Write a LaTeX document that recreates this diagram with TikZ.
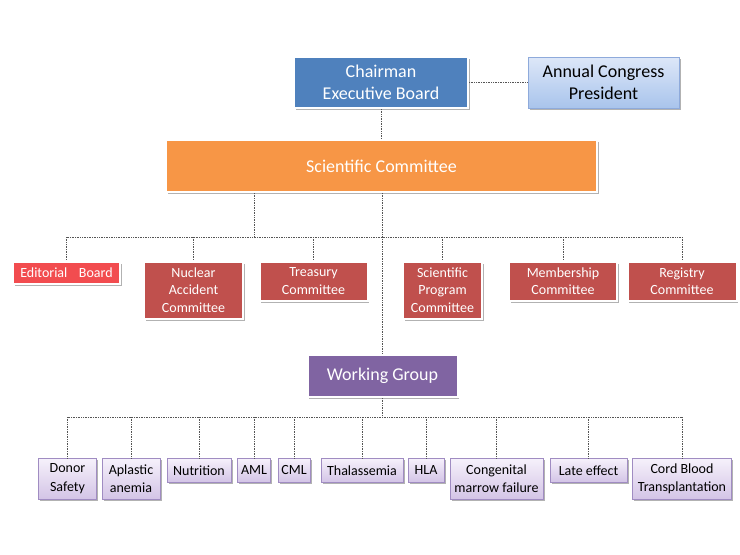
\documentclass[tikz,border=0pt]{standalone}
\usepackage{fontspec}
\setmainfont{Carlito}
\usetikzlibrary{shadows,calc}

\definecolor{chairblue}{HTML}{4F81BD}
\definecolor{sciorange}{HTML}{F79646}
\definecolor{comred}{HTML}{C0504D}
\definecolor{edired}{HTML}{F24C4F}
\definecolor{wgpurple}{HTML}{8064A2}
\definecolor{congtop}{HTML}{DDE7F8}
\definecolor{congbot}{HTML}{A9C4EC}
\definecolor{congline}{HTML}{8EAADB}
\definecolor{topictop}{HTML}{F6F1FB}
\definecolor{topicbot}{HTML}{D3C4E6}
\definecolor{topicline}{HTML}{A08CC2}
\definecolor{linkgray}{HTML}{555555}

\tikzset{
  orgbox/.style={rectangle, inner sep=0pt, align=center,
    drop shadow={shadow xshift=1.5pt, shadow yshift=-2pt, opacity=0.3, fill=black}},
  headbox/.style={orgbox, draw=white, line width=2pt, text=white,
    font=\fontsize{18}{22}\selectfont},
  committee/.style={orgbox, draw=white, line width=2pt, fill=comred, text=white,
    minimum height=39pt, font=\fontsize{14}{17.3}\selectfont},
  topic/.style={orgbox, draw=topicline, line width=0.6pt, top color=topictop,
    bottom color=topicbot, minimum height=24pt, font=\fontsize{14}{18.3}\selectfont},
  link/.style={draw=linkgray, densely dotted, line width=0.7pt}
}

\begin{document}
\begin{tikzpicture}[x=1pt,y=-1pt]
\useasboundingbox (0,0) rectangle (740,555);

\node[headbox, fill=chairblue, minimum width=174pt, minimum height=51pt] (chair) at (381,82.5) {Chairman\\Executive Board};
\node[orgbox, draw=congline, line width=0.6pt, top color=congtop, bottom color=congbot,
  minimum width=151pt, minimum height=51pt, font=\fontsize{18}{22}\selectfont] (congress) at (603.5,82.5) {Annual Congress\\President};
\node[headbox, fill=sciorange, minimum width=431pt, minimum height=52pt] (sci) at (381.5,166) {Scientific Committee};

\node[committee, fill=edired, minimum width=107pt, minimum height=22pt] (editorial) at (66.5,272.5) {Editorial\hspace{0.6em} Board};
\node[committee, minimum width=99pt, minimum height=57pt] (nuclear) at (193.5,290) {Nuclear\\Accident\\Committee};
\node[committee, minimum width=108pt] (treasury) at (313.5,281) {Treasury\\Committee};
\node[committee, minimum width=79pt, minimum height=57pt] (sciprog) at (442.5,290) {Scientific\\Program\\Committee};
\node[committee, minimum width=108pt] (member) at (563,281) {Membership\\Committee};
\node[committee, minimum width=109pt] (registry) at (682,281) {Registry\\Committee};

\node[headbox, fill=wgpurple, minimum width=150pt, minimum height=42pt] (wg) at (382.5,376) {Working Group};

\node[topic, minimum width=58pt, minimum height=41pt] (donor) at (67.5,478.7) {Donor\\Safety};
\node[topic, minimum width=58pt, minimum height=41pt] (aplastic) at (131,478.7) {Aplastic\\anemia};
\node[topic, minimum width=64pt] (nutrition) at (199,470.3) {Nutrition};
\node[topic, minimum width=33pt] (aml) at (254,470.3) {AML};
\node[topic, minimum width=32pt] (cml) at (294,470.3) {CML};
\node[topic, minimum width=82pt] (thal) at (362,470.3) {Thalassemia};
\node[topic, minimum width=36pt] (hla) at (426,470.3) {HLA};
\node[topic, minimum width=93pt, minimum height=41pt] (congenital) at (496.5,478.7) {Congenital\\marrow failure};
\node[topic, minimum width=77pt] (late) at (588.5,470.3) {Late effect};
\node[topic, minimum width=99pt, minimum height=41pt] (cord) at (682,478.7) {Cord Blood\\Transplantation};

\coordinate (bus1) at (0,237);
\coordinate (bus2) at (0,417);
\coordinate (sciL) at ([xshift=-127.5pt]sci.south);

\draw[link] (chair.east) -- (congress.west);
\draw[link] (chair.south) -- (chair.south |- sci.north);
\draw[link] (sci.south -| wg.north) -- (wg.north);
\draw[link] (sciL) -- (sciL |- bus1);
\draw[link] (editorial.north |- bus1) -- (registry.north |- bus1);
\foreach \n in {editorial,nuclear,treasury,sciprog,member,registry}
  \draw[link] (\n.north |- bus1) -- (\n.north);
\draw[link] (wg.south) -- (wg.south |- bus2);
\draw[link] (donor.north |- bus2) -- (cord.north |- bus2);
\foreach \n in {donor,aplastic,nutrition,aml,cml,thal,hla,congenital,late,cord}
  \draw[link] (\n.north |- bus2) -- (\n.north);
\end{tikzpicture}
\end{document}
